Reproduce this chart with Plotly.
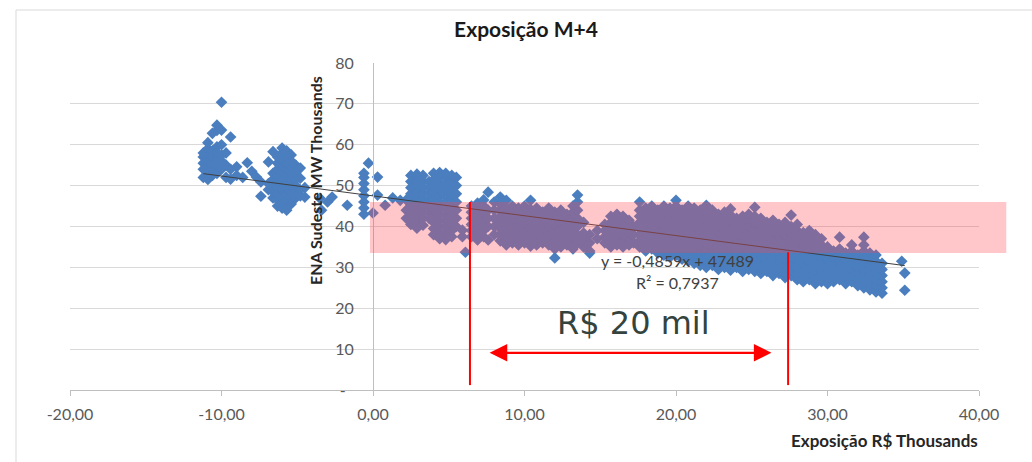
import plotly.graph_objects as go

# ---------------- data (x: Exposição R$ thousands, y: ENA Sudeste MW thousands) ----------------
cluster_a = [  # around -11 .. -7
    (-11.2, [52, 54, 55.5, 57, 58]),
    (-10.9, [51.5, 53, 54.5, 56, 57.5, 59, 60.5]),
    (-10.6, [52.5, 54, 55.5, 57, 58.5, 62.8]),
    (-10.3, [53, 55, 56.5, 58, 59.5, 63.5, 64.8]),
    (-10.0, [54, 56, 57.5, 60, 63.6, 70.4]),
    (-9.7, [52, 55, 58]),
    (-9.4, [51.6, 54, 61.9]),
    (-9.0, [52.5, 54.6]),
    (-8.6, [52]),
    (-8.3, [55.6]),
    (-8.0, [53.5]),
    (-7.7, [52.1]),
    (-7.4, [47.4, 50.9]),
]
cluster_b = [  # around -7 .. 2
    (-6.9, [49, 50.5, 55.8]),
    (-6.6, [47, 48.5, 50, 51.5, 53, 58.3]),
    (-6.3, [45, 46.5, 48, 49.5, 51, 52.5, 54, 55.5, 57]),
    (-6.0, [44.5, 46, 47.5, 49, 50.5, 52, 53.5, 55, 56.5, 58, 59.2]),
    (-5.7, [44, 45, 46.5, 48, 49.5, 51, 52.5, 54, 55.5, 57, 58.5]),
    (-5.4, [45.5, 47, 48.5, 50, 51.5, 53, 54.5, 56, 57.5]),
    (-5.1, [47, 48.5, 50, 51.5, 53, 55]),
    (-4.8, [47.5, 48.9, 51.8, 54.3]),
    (-4.5, [47.2, 49.5]),
    (-3.5, [46.9]),
    (-3.4, [44.0]),
    (-3.0, [46.0]),
    (-2.7, [47.2]),
    (-1.7, [45.2]),
    (-0.6, [43, 44.5, 46, 47.5, 49, 50.5, 52, 53]),
    (-0.3, [55.5]),
    (0.0, [43.3]),
    (0.3, [47.7, 52.1]),
    (0.8, [45.2]),
    (1.3, [47.0]),
    (1.8, [46.4]),
]
cluster_c = [  # block around 2 .. 6
    (2.2, [42, 44, 46.5]),
    (2.5, [40.5, 42, 43.5, 45, 46.5, 48, 49.5, 51, 52.5]),
    (2.9, [39.6, 41, 42.5, 44, 45.5, 47, 48.5, 50, 51.5, 52.8]),
    (3.3, [40.3, 42, 43.5, 45, 46.5, 48, 49.5, 51, 52.5]),
    (3.7, [42, 43.5, 45, 46.5, 48, 49.5, 51]),
    (4.0, [38, 39.5, 41, 42.5, 44, 45.5, 47, 48.5, 50, 51.5, 53]),
    (4.4, [37, 38.5, 40, 41.5, 43, 44.5, 46, 47.5, 49, 50.5, 52, 53.2]),
    (4.8, [36.8, 38.3, 39.8, 41.3, 42.8, 44.3, 45.8, 47.3, 48.8, 50.3, 51.8, 53]),
    (5.2, [37.5, 39, 40.5, 42, 43.5, 45, 46.5, 48, 49.5, 51, 52.5]),
    (5.5, [40, 42, 44, 46, 48, 50, 52]),
    (5.9, [37.5, 39.1]),
    (6.1, [33.7]),
]
cluster_d = [  # around 6.5 .. 14.8
    (6.5, [37.5, 39, 40.5, 42, 43.5, 45]),
    (6.9, [36.7, 38.2, 39.7, 41.2, 42.7, 44.2, 45.7]),
    (7.3, [37.5, 39, 40.5, 42, 43.5, 45, 46.5]),
    (7.6, [36.7, 40, 42, 44, 48.4]),
    (8.0, [38, 40, 42, 44, 46]),
    (8.4, [36.5, 38, 39.5, 41, 42.5, 44, 45.5, 47.2]),
    (8.8, [35.5, 37, 38.5, 40, 41.5, 43, 44.5, 46.4]),
    (9.2, [36, 37.5, 39, 40.5, 42, 43.5, 45]),
    (9.6, [35.5, 37, 38.5, 40, 41.5, 43, 44.5]),
    (10.0, [36, 37.5, 39, 40.5, 42, 43.5, 45]),
    (10.4, [35.2, 36.7, 38.2, 39.7, 41.2, 42.7, 44.2, 46.4]),
    (10.8, [35.5, 37, 38.5, 40, 41.5, 43, 44.5]),
    (11.2, [36, 37.5, 39, 40.5, 42, 43.5]),
    (11.6, [35.5, 37, 38.5, 40, 41.5, 43, 44.5]),
    (12.0, [32.3, 34.5, 36, 37.5, 39, 40.5, 42, 43.5]),
    (12.4, [35, 36.5, 38, 39.5, 41, 42.5, 44]),
    (12.8, [35.5, 37, 38.5, 40, 41.5, 43]),
    (13.2, [34.5, 36, 37.5, 39, 40.5, 42, 43.5, 45]),
    (13.5, [36, 38, 40, 42, 44, 46, 47.7]),
    (13.9, [35, 37, 38.4, 41]),
    (14.3, [33.5, 34, 36, 38]),
    (14.8, [37, 39]),
]
cluster_e = [  # around 15 .. 24
    (15.3, [36, 37.5, 39, 40.5]),
    (15.7, [35, 36.5, 38, 39.5, 41, 42.5]),
    (16.1, [35.5, 37, 38.5, 40, 41.5, 43]),
    (16.5, [35, 36.5, 38, 39.5, 41, 42.5]),
    (16.9, [35.5, 37, 38.5, 40, 41.5]),
    (17.2, [36, 38, 40]),
    (17.6, [35, 36.5, 38, 39.5, 41, 42.5, 44, 46]),
    (18.0, [34, 35.5, 37, 38.5, 40, 41.5, 43, 44.5]),
    (18.4, [34.5, 36, 37.5, 39, 40.5, 42, 43.5, 45]),
    (18.8, [33.5, 35, 36.5, 38, 39.5, 41, 42.5, 44]),
    (19.2, [33, 34.5, 36, 37.5, 39, 40.5, 42, 43.5, 45]),
    (19.6, [32.5, 34, 35.5, 37, 38.5, 40, 41.5, 43, 44.5]),
    (20.0, [33, 34.5, 36, 37.5, 39, 40.5, 42, 43.5, 45, 46.4]),
    (20.4, [32, 33.5, 35, 36.5, 38, 39.5, 41, 42.5, 44]),
    (20.8, [31.5, 33, 34.5, 36, 37.5, 39, 40.5, 42, 43.5, 45]),
    (21.2, [31, 32.5, 34, 35.5, 37, 38.5, 40, 41.5, 43, 44.5]),
    (21.6, [30.5, 32, 33.5, 35, 36.5, 38, 39.5, 41, 42.5, 44]),
    (22.0, [30, 31.5, 33, 34.5, 36, 37.5, 39, 40.5, 42, 43.5, 45.2]),
    (22.4, [30.5, 32, 33.5, 35, 36.5, 38, 39.5, 41, 42.5, 44]),
    (22.8, [29.5, 31, 32.5, 34, 35.5, 37, 38.5, 40, 41.5, 43]),
    (23.2, [30, 31.5, 33, 34.5, 36, 37.5, 39, 40.5, 42, 43.5]),
    (23.6, [29.3, 30.8, 32.3, 33.8, 35.3, 36.8, 38.3, 39.8, 41.3, 42.8, 44.3]),
    (24.0, [30, 31.5, 33, 34.5, 36, 37.5, 39, 40.5, 42]),
]
cluster_f = [  # around 24.4 .. 35
    (24.4, [29, 30.5, 32, 33.5, 35, 36.5, 38, 39.5, 41, 42.5]),
    (24.8, [29.5, 31, 32.5, 34, 35.5, 37, 38.5, 40, 41.5, 43]),
    (25.2, [29, 30.5, 32, 33.5, 35, 36.5, 38, 39.5, 41, 42.5, 44.7]),
    (25.6, [28.5, 30, 31.5, 33, 34.5, 36, 37.5, 39, 40.5, 42]),
    (26.0, [29, 30.5, 32, 33.5, 35, 36.5, 38, 39.5, 41]),
    (26.4, [28, 29.5, 31, 32.5, 34, 35.5, 37, 38.5, 40, 41.5]),
    (26.8, [28.5, 30, 31.5, 33, 34.5, 36, 37.5, 39, 40.5]),
    (27.2, [27.5, 29, 30.5, 32, 33.5, 35, 36.5, 38, 39.5, 41]),
    (27.6, [28, 29.5, 31, 32.5, 34, 35.5, 37, 38.5, 40, 42.8]),
    (28.0, [27, 28.5, 30, 31.5, 33, 34.5, 36, 37.5, 39, 40.5]),
    (28.4, [26.5, 28, 29.5, 31, 32.5, 34, 35.5, 37, 38.5]),
    (28.8, [27, 28.5, 30, 31.5, 33, 34.5, 36, 37.5, 39]),
    (29.2, [26, 27.5, 29, 30.5, 32, 33.5, 35, 36.5, 38]),
    (29.6, [26.5, 28, 29.5, 31, 32.5, 34, 35.5, 37]),
    (30.0, [26, 27.5, 29, 30.5, 32, 33.5, 35]),
    (30.4, [26.5, 28, 29.5, 31, 32.5, 34]),
    (30.8, [27, 28.5, 30, 31.5, 33, 34.5, 37.4]),
    (31.2, [26, 27.5, 29, 30.5, 32, 33.5]),
    (31.6, [26.5, 28, 29.5, 31, 32.5, 34, 35.5]),
    (32.0, [25.5, 27, 28.5, 30, 31.5, 33]),
    (32.4, [25, 26.5, 28, 29.5, 31, 32.5, 34, 35.5, 37.4]),
    (32.8, [24.5, 26, 27.5, 29, 30.5, 32, 33.5]),
    (33.2, [24, 25.5, 27, 28.5, 30, 31.5, 33]),
    (33.6, [23.7, 25, 26.5, 28, 29.5, 31]),
    (34.9, [31.5]),
    (35.1, [24.4, 28.6]),
]

# linear trendline (as printed on chart, converted to thousands)
trend_slope = -0.4859
trend_intercept = 47.489
trend_label = "y = -0,4859x + 47489"
r2_label = "R² = 0,7937"

# axes
x_ticks = [-20, -10, 0, 10, 20, 30, 40]
x_ticktext = ["-20,00", "-10,00", "0,00", "10,00", "20,00", "30,00", "40,00"]
y_ticks = [0, 10, 20, 30, 40, 50, 60, 70, 80]
y_ticktext = ["-\u00a0\u00a0", "10", "20", "30", "40", "50", "60", "70", "80"]
x_range = [-20, 40]
y_range = [0, 80]

# highlight annotations
band_x = [-0.2, 41.8]        # pink band extent (exposure)
band_y = [33.5, 46.0]        # pink band extent (ENA)
range_lines_x = [6.4, 27.4]  # red vertical markers
range_lines_top = [46.0, 33.7]
range_lines_bottom = 1.2
arrow_x = [7.6, 26.3]
arrow_y = 9.1
arrow_label = "R$ 20 mil"
arrow_label_pos = (17.2, 16.4)
eq_pos = (20.1, 31.6)
r2_pos = (20.1, 26.4)

# ---------------- build ----------------
xs, ys = [], []
for cl in (cluster_a, cluster_b, cluster_c, cluster_d, cluster_e, cluster_f):
    for xv, yl in cl:
        for yv in yl:
            xs.append(xv)
            ys.append(yv)

tx = [min(xs), max(xs)]
ty = [trend_slope * v + trend_intercept for v in tx]

W, H = 1032, 462
ML, MR, MT, MB = 70, 53, 63, 72
PW, PH = W - ML - MR, H - MT - MB


def px2paper_x(px):
    return (px - ML) / PW


def px2paper_y(py):
    return (H - MB - py) / PH


def dx2paper(v):
    return (v - x_range[0]) / (x_range[1] - x_range[0])


def dy2paper(v):
    return (v - y_range[0]) / (y_range[1] - y_range[0])


FONT = "Lato"
fig = go.Figure()
fig.add_trace(go.Scatter(
    x=xs, y=ys, mode="markers",
    marker=dict(symbol="diamond", size=9, color="#4a7ebf", line=dict(width=0)),
    hoverinfo="skip", showlegend=False,
))
fig.add_trace(go.Scatter(
    x=tx, y=ty, mode="lines", line=dict(color="#3f3f3f", width=1),
    hoverinfo="skip", showlegend=False,
))

shapes = []
# outer chart frame (left/top edges visible)
shapes.append(dict(type="rect", xref="paper", yref="paper",
                   x0=px2paper_x(16), x1=px2paper_x(1100),
                   y0=px2paper_y(520), y1=px2paper_y(10),
                   line=dict(color="#d9d9d9", width=1), layer="below"))
# pink band
shapes.append(dict(type="rect", xref="paper", yref="paper",
                   x0=dx2paper(band_x[0]), x1=dx2paper(band_x[1]),
                   y0=dy2paper(band_y[0]), y1=dy2paper(band_y[1]),
                   fillcolor="rgba(255,70,80,0.30)", line=dict(width=0), layer="above"))
for lx, lt in zip(range_lines_x, range_lines_top):
    shapes.append(dict(type="line", xref="x", yref="y", x0=lx, x1=lx,
                       y0=range_lines_bottom, y1=lt,
                       line=dict(color="#ff0000", width=2), layer="above"))

annotations = [
    dict(x=arrow_x[1], y=arrow_y, ax=arrow_x[0], ay=arrow_y, xref="x", yref="y",
         axref="x", ayref="y", text="", showarrow=True, arrowhead=2,
         arrowside="end+start", arrowsize=1.6, arrowwidth=2.2, arrowcolor="#ff0000"),
    dict(x=arrow_label_pos[0], y=arrow_label_pos[1], xref="x", yref="y",
         text=arrow_label, showarrow=False, xanchor="center", yanchor="middle",
         font=dict(family="DejaVu Sans", size=32, color="#34433d")),
    dict(x=eq_pos[0], y=eq_pos[1], xref="x", yref="y", text=trend_label,
         showarrow=False, xanchor="center", yanchor="middle",
         font=dict(family=FONT, size=16, color="#404040")),
    dict(x=r2_pos[0], y=r2_pos[1], xref="x", yref="y", text=r2_label,
         showarrow=False, xanchor="center", yanchor="middle",
         font=dict(family=FONT, size=16, color="#404040")),
    dict(x=px2paper_x(884), y=px2paper_y(440), xref="paper", yref="paper",
         text="<b>Exposição R$ Thousands</b>", showarrow=False,
         xanchor="center", yanchor="middle",
         font=dict(family=FONT, size=17, color="#262626")),
    dict(x=px2paper_x(315), y=px2paper_y(181), xref="paper", yref="paper",
         text="<b>ENA Sudeste MW Thousands</b>", showarrow=False, textangle=-90,
         xanchor="center", yanchor="middle",
         font=dict(family=FONT, size=16, color="#262626")),
]

fig.update_layout(
    width=W, height=H,
    margin=dict(l=ML, r=MR, t=MT, b=MB),
    paper_bgcolor="white", plot_bgcolor="white",
    title=dict(text="<b>Exposição M+4</b>", x=px2paper_x(526), xref="paper",
               y=1 - 30 / H, yref="container", xanchor="center", yanchor="middle",
               font=dict(family=FONT, size=21, color="#1a1a1a")),
    xaxis=dict(range=x_range, tickvals=x_ticks, ticktext=x_ticktext,
               showgrid=False, zeroline=False, showline=True, linecolor="#bfbfbf",
               linewidth=1, ticks="outside", ticklen=5, tickcolor="#bfbfbf",
               ticklabelstandoff=5,
               tickfont=dict(family=FONT, size=16, color="#595959")),
    yaxis=dict(range=y_range, tickvals=y_ticks, ticktext=y_ticktext,
               showgrid=True, gridcolor="#d9d9d9", gridwidth=1, zeroline=False,
               showline=True, linecolor="#bfbfbf", linewidth=1,
               anchor="free", position=dx2paper(0),
               ticks="outside", ticklen=16, tickcolor="rgba(0,0,0,0)",
               tickfont=dict(family=FONT, size=16, color="#595959")),
    shapes=shapes, annotations=annotations,
    font=dict(family=FONT),
)

fig.write_html("out.html", config={"displayModeBar": False},
               post_script="document.body.style.margin='0px';")
